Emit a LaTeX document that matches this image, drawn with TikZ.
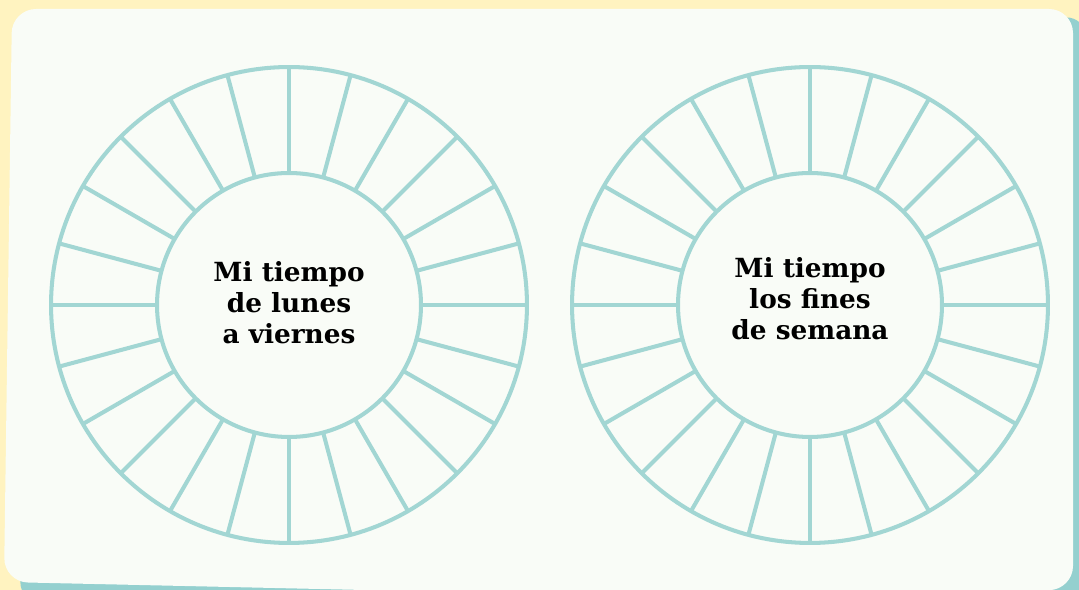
\documentclass[tikz,border=0pt]{standalone}
\usepackage{fontspec}
\newfontfamily\hubfont{DejaVu Serif}
\definecolor{pagebg}{HTML}{FFF3C0}
\definecolor{cardbg}{HTML}{F9FCF7}
\definecolor{cardshadow}{HTML}{94D0CF}
\definecolor{spokecol}{HTML}{A2D6D3}
\tikzset{
  ring/.style={circle, draw=spokecol, line width=2.3pt, inner sep=0pt, outer sep=0pt},
  hubtext/.style={align=center, text=black, font=\hubfont\bfseries\fontsize{15}{17.6}\selectfont},
  spoke/.style={draw=spokecol, line width=2.3pt}
}
\begin{document}
\begin{tikzpicture}[x=0.02cm,y=-0.02cm]
    % Page and card
    \useasboundingbox (0,0) rectangle (1079,590);
    \clip (0,0) rectangle (1079,590);
    \fill[pagebg] (0,0) rectangle (1079,590);
    \fill[cardshadow, rounded corners=0.4cm] (30,40) -- (1086,17) -- (1086,602) -- (20,602) -- cycle;
    \fill[cardbg, rounded corners=0.48cm] (12,9) -- (1073,9) -- (1073,590) -- (500,593) -- (4,582) -- cycle;
    % Left wheel
    \node[ring, minimum size=9.52cm] (weekouter) at (289,305) {};
    \node[ring, minimum size=5.28cm] (weekinner) at (289,305) {};
    \foreach \a in {0,15,...,345}
        \draw[spoke] (weekinner.\a) -- (weekouter.\a);
    \node[hubtext] (weektext) at (289,303) {Mi tiempo\\de lunes\\a viernes};
    % Right wheel
    \node[ring, minimum size=9.52cm] (endouter) at (810,305) {};
    \node[ring, minimum size=5.28cm] (endinner) at (810,305) {};
    \foreach \a in {0,15,...,345}
        \draw[spoke] (endinner.\a) -- (endouter.\a);
    \node[hubtext] (endtext) at (810,299) {Mi tiempo\\los fines\\de semana};
\end{tikzpicture}
\end{document}
